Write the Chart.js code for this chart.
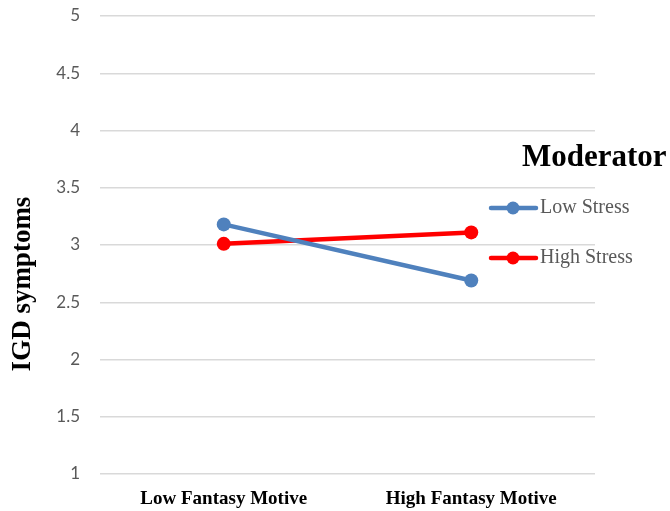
<!DOCTYPE html>
<html>
<head>
<meta charset="utf-8">
<script src="https://cdn.jsdelivr.net/npm/chart.js@4/dist/chart.umd.min.js"></script>
<style>
  html, body { margin: 0; padding: 0; background: #fff; }
  #wrap { width: 670px; height: 511px; position: relative; }
</style>
</head>
<body>
<div id="wrap"><canvas id="myChart"></canvas></div>
<script>
// data
const categories = ["Low Fantasy Motive", "High Fantasy Motive"];
const lowStress = [3.18, 2.69];
const highStress = [3.01, 3.11];
const seriesNames = ["Low Stress", "High Stress"];
const seriesColors = ["#4f81bd", "#ff0000"];
const yTicks = [1, 1.5, 2, 2.5, 3, 3.5, 4, 4.5, 5];

const serif = "'Liberation Serif', 'Times New Roman', serif";

// draws the y title and the "Moderator" legend by hand (it sits over the grid)
const extras = {
  id: "extras",
  afterDraw(chart) {
    const ctx = chart.ctx;
    ctx.save();
    // y axis title
    ctx.translate(23, 284);
    ctx.rotate(-Math.PI / 2);
    ctx.fillStyle = "#000";
    ctx.font = "bold 27px " + serif;
    ctx.textAlign = "center";
    ctx.textBaseline = "middle";
    ctx.fillText("IGD symptoms", 0, 0);
    ctx.restore();

    ctx.save();
    ctx.fillStyle = "#000";
    ctx.font = "bold 31px " + serif;
    ctx.textBaseline = "middle";
    ctx.textAlign = "left";
    ctx.fillText("Moderator", 522, 158);
    const rows = [208, 258];
    chart.data.datasets.forEach((ds, i) => {
      const y = rows[i];
      ctx.strokeStyle = ds.borderColor;
      ctx.lineWidth = 4.5;
      ctx.lineCap = "round";
      ctx.beginPath();
      ctx.moveTo(491, y);
      ctx.lineTo(536, y);
      ctx.stroke();
      ctx.fillStyle = ds.borderColor;
      ctx.beginPath();
      ctx.arc(513, y, 6.5, 0, Math.PI * 2);
      ctx.fill();
      ctx.fillStyle = "#595959";
      ctx.font = "20px " + serif;
      ctx.fillText(ds.label, 540, y);
    });
    ctx.restore();
  }
};

const ctx = document.getElementById("myChart").getContext("2d");
const myChart = new Chart(ctx, {
  type: "line",
  data: {
    labels: categories,
    datasets: [
      {
        label: seriesNames[0],
        data: lowStress,
        borderColor: seriesColors[0],
        backgroundColor: seriesColors[0],
        borderWidth: 4.5,
        pointRadius: 7,
        pointHoverRadius: 7,
        pointBorderWidth: 0,
        tension: 0
      },
      {
        label: seriesNames[1],
        data: highStress,
        borderColor: seriesColors[1],
        backgroundColor: seriesColors[1],
        borderWidth: 4.5,
        pointRadius: 7,
        pointHoverRadius: 7,
        pointBorderWidth: 0,
        tension: 0
      }
    ]
  },
  options: {
    responsive: true,
    maintainAspectRatio: false,
    animation: false,
    layout: { padding: { left: 0, right: 75, top: 16, bottom: 0 } },
    plugins: {
      legend: { display: false },
      tooltip: { enabled: false }
    },
    scales: {
      x: {
        offset: true,
        grid: { display: false },
        border: { display: false },
        ticks: {
          color: "#000",
          font: { family: serif, size: 19, weight: "bold" },
          padding: 6,
          maxRotation: 0
        },
        afterFit(scale) {
          scale.height = 37;
          scale.paddingLeft = 0;
          scale.paddingRight = 0;
        }
      },
      y: {
        min: 1,
        max: 5,
        afterBuildTicks(scale) { scale.ticks = yTicks.map(v => ({ value: v })); },
        grid: { color: "#d9d9d9", lineWidth: 1.5, drawTicks: false },
        border: { display: false },
        ticks: {
          color: "#595959",
          font: { family: "Lato, 'Open Sans', sans-serif", size: 17 },
          padding: 20,
          callback: v => String(v)
        },
        afterFit(scale) {
          scale.width = 100;
          scale.paddingTop = 0;
          scale.paddingBottom = 0;
        }
      }
    }
  },
  plugins: [extras]
});
</script>
</body>
</html>
